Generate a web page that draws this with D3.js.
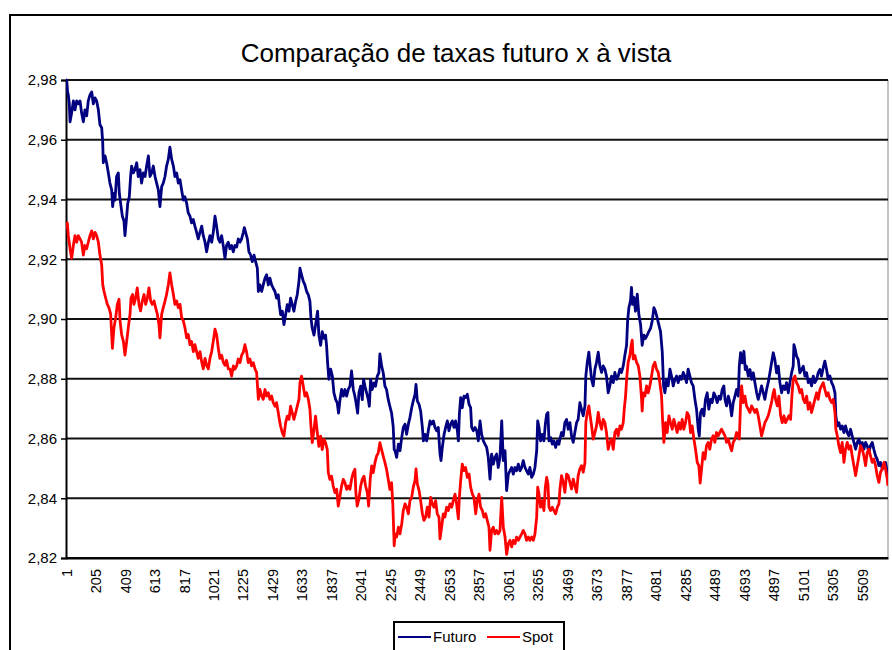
<!DOCTYPE html>
<html>
<head>
<meta charset="utf-8">
<script src="https://cdn.jsdelivr.net/npm/d3@7"></script>
<style>
  body { margin: 0; background: #fff; }
  svg { display: block; font-family: Arial, "Liberation Sans", sans-serif; }
</style>
</head>
<body>
<div id="chart"></div>
<script>
var futuroPts = [[1,2.979],[6,2.980],[12,2.976],[17,2.975],[24,2.972],[29,2.966],[40,2.969],[52,2.973],[63,2.970],[75,2.973],[86,2.972],[98,2.973],[109,2.969],[121,2.966],[132,2.970],[144,2.968],[155,2.973],[167,2.975],[179,2.976],[190,2.972],[202,2.974],[213,2.973],[225,2.970],[236,2.965],[248,2.964],[255,2.9592],[259,2.9523],[271,2.9546],[282,2.9523],[294,2.9489],[305,2.9455],[317,2.9432],[324,2.9376],[333,2.942],[340,2.9398],[351,2.9477],[363,2.9489],[370,2.942],[379,2.9387],[391,2.9344],[402,2.9328],[409,2.9279],[421,2.9344],[428,2.9387],[439,2.9409],[448,2.9477],[455,2.9512],[467,2.9489],[478,2.95],[490,2.9523],[501,2.9477],[513,2.95],[524,2.9455],[536,2.9489],[548,2.9477],[559,2.9512],[571,2.9546],[582,2.9477],[594,2.9489],[605,2.9512],[617,2.9477],[628,2.9455],[640,2.9432],[651,2.9376],[663,2.9443],[674,2.9455],[686,2.9477],[697,2.9512],[709,2.9535],[720,2.9575],[732,2.9535],[744,2.9512],[755,2.9477],[767,2.9489],[778,2.9455],[790,2.9466],[801,2.9432],[813,2.9398],[824,2.9409],[836,2.9387],[847,2.9355],[859,2.9344],[870,2.9322],[882,2.9333],[893,2.9311],[905,2.929],[916,2.9268],[928,2.929],[940,2.9311],[951,2.9279],[963,2.9257],[974,2.9225],[986,2.9257],[997,2.9279],[1009,2.9257],[1020,2.929],[1032,2.9344],[1043,2.9311],[1055,2.9268],[1066,2.9257],[1078,2.9279],[1089,2.9246],[1101,2.9203],[1112,2.9246],[1124,2.9257],[1135,2.9235],
  [1147,2.9246],[1159,2.9225],[1170,2.9246],[1182,2.9241],[1193,2.9268],[1205,2.9257],[1216,2.9268],[1228,2.929],[1235,2.9306],[1244,2.929],[1256,2.9268],[1267,2.9225],[1279,2.9214],[1290,2.9192],[1302,2.9214],[1313,2.9192],[1325,2.917],[1332,2.9092],[1343,2.9114],[1355,2.9092],[1366,2.9114],[1378,2.9137],[1389,2.9148],[1401,2.9114],[1412,2.9137],[1424,2.9114],[1435,2.9103],[1447,2.9092],[1458,2.907],[1470,2.9081],[1477,2.9048],[1486,2.9015],[1498,2.9026],[1509,2.8981],[1521,2.9015],[1532,2.9048],[1544,2.9026],[1555,2.907],[1567,2.9048],[1578,2.9026],[1590,2.9059],[1601,2.9081],[1613,2.9126],[1620,2.917],[1631,2.9148],[1643,2.9126],[1654,2.9114],[1666,2.9092],[1678,2.9081],[1689,2.9059],[1696,2.9003],[1705,2.8969],[1717,2.8946],[1728,2.8981],[1742,2.9026],[1751,2.8946],[1763,2.8912],[1774,2.8958],[1786,2.8935],[1797,2.8946],[1804,2.8912],[1811,2.8855],[1820,2.8798],[1832,2.8832],[1844,2.8809],[1855,2.8753],[1867,2.873],[1878,2.8719],[1887,2.8685],[1897,2.873],[1908,2.8764],[1920,2.8742],[1931,2.8764],[1943,2.8742],[1954,2.8764],[1966,2.8775],[1977,2.8826],[1989,2.8764],[2000,2.8742],[2012,2.8708],[2019,2.8685],[2028,2.8753],[2040,2.8775],[2051,2.873],[2060,2.8798],[2070,2.8775],[2081,2.8753],[2093,2.873],[2100,2.8708],[2109,2.8798],[2120,2.8764],[2132,2.8786],[2143,2.8775],[2155,2.8809],[2166,2.882],[2173,2.8883],[2185,2.8843],[2196,2.882],[2208,2.8775],[2219,2.8764],[2231,2.873],[2242,2.8708],[2254,2.8685],[2265,2.8641],[2272,2.8563],
  [2278,2.8559],[2289,2.8537],[2301,2.8581],[2312,2.8559],[2324,2.8603],[2335,2.8637],[2347,2.8648],[2358,2.8614],[2370,2.8648],[2381,2.867],[2393,2.8703],[2404,2.8726],[2416,2.8748],[2423,2.8781],[2432,2.8726],[2444,2.8714],[2455,2.8692],[2467,2.8637],[2474,2.8592],[2485,2.8614],[2497,2.8592],[2508,2.8626],[2520,2.8659],[2531,2.8648],[2543,2.8659],[2554,2.8637],[2566,2.8626],[2577,2.8637],[2589,2.8548],[2596,2.8526],[2605,2.857],[2617,2.8614],[2628,2.8637],[2640,2.8659],[2651,2.8626],[2663,2.8648],[2674,2.8659],[2686,2.8637],[2697,2.8659],[2709,2.8626],[2716,2.8592],[2723,2.8681],[2732,2.8737],[2743,2.8703],[2755,2.8742],[2766,2.8737],[2778,2.8748],[2790,2.8714],[2801,2.8703],[2808,2.8637],[2820,2.8626],[2831,2.8637],[2843,2.8626],[2854,2.8592],[2866,2.8659],[2877,2.8614],[2889,2.8592],[2900,2.8581],[2912,2.857],[2923,2.8537],[2935,2.8464],[2946,2.8548],[2958,2.8514],[2969,2.8537],[2981,2.8548],[2992,2.8503],[3004,2.8537],[3016,2.8659],[3027,2.8526],[3039,2.8559],[3050,2.8426],[3062,2.8481],[3073,2.8492],[3085,2.8503],[3096,2.8481],[3108,2.8503],[3119,2.8492],[3131,2.8514],[3142,2.8492],[3154,2.8503],[3165,2.8526],[3177,2.8503],[3188,2.8492],[3200,2.8481],[3211,2.8503],[3223,2.847],[3235,2.8481],[3246,2.8503],[3258,2.8559],[3265,2.8659],[3274,2.8637],[3285,2.8592],[3297,2.8614],[3308,2.8592],[3318,2.8648],[3327,2.8681],[3336,2.8687],[3343,2.8592],[3354,2.8603],[3366,2.8581],[3377,2.8592],[3389,2.857],[3401,2.8592],[3412,2.8581],
  [3419,2.8598],[3430,2.862],[3442,2.8609],[3453,2.8653],[3465,2.8664],[3476,2.8631],[3488,2.8653],[3499,2.8609],[3511,2.8587],[3522,2.862],[3534,2.8653],[3545,2.8664],[3557,2.872],[3568,2.8698],[3580,2.8676],[3592,2.8709],[3598,2.8809],[3608,2.8855],[3619,2.8889],[3628,2.8843],[3638,2.8798],[3649,2.8776],[3661,2.8832],[3672,2.8855],[3684,2.8889],[3695,2.8843],[3707,2.8821],[3718,2.8843],[3730,2.8832],[3741,2.8809],[3753,2.8753],[3764,2.8776],[3776,2.8809],[3788,2.8787],[3799,2.8821],[3811,2.8798],[3822,2.8809],[3834,2.8832],[3845,2.8821],[3857,2.8843],[3868,2.8878],[3880,2.8912],[3887,2.8992],[3896,2.9038],[3907,2.9061],[3914,2.9106],[3921,2.9049],[3931,2.9072],[3942,2.9026],[3954,2.9083],[3965,2.9015],[3977,2.8981],[3988,2.8912],[4000,2.8946],[4011,2.8935],[4023,2.8946],[4034,2.8958],[4046,2.8969],[4057,2.8992],[4069,2.9038],[4080,2.9026],[4092,2.9003],[4103,2.8981],[4115,2.8958],[4127,2.8889],[4136,2.8776],[4145,2.8753],[4157,2.8798],[4168,2.8776],[4180,2.8832],[4191,2.8809],[4203,2.8776],[4214,2.8798],[4226,2.8809],[4237,2.8787],[4249,2.8809],[4260,2.8798],[4272,2.8821],[4283,2.8809],[4295,2.8787],[4306,2.8832],[4318,2.8809],[4329,2.8787],[4341,2.8776],[4353,2.8731],[4364,2.8698],[4376,2.8631],[4383,2.8609],[4392,2.8687],[4403,2.8698],[4415,2.8676],[4426,2.8731],[4438,2.8753],[4449,2.8698],[4461,2.8731],[4472,2.872],[4484,2.8753],[4495,2.8742],[4507,2.872],[4519,2.8742],[4530,2.8731],[4542,2.8764],[4553,2.8776],
  [4561,2.8731],[4572,2.8709],[4584,2.8742],[4595,2.872],[4607,2.8676],[4618,2.872],[4630,2.8742],[4641,2.8764],[4653,2.8742],[4660,2.8842],[4669,2.8887],[4681,2.8853],[4692,2.8892],[4701,2.8831],[4710,2.8842],[4722,2.8809],[4734,2.8831],[4745,2.8798],[4757,2.882],[4768,2.8787],[4780,2.8753],[4791,2.8731],[4803,2.8753],[4814,2.8776],[4826,2.8753],[4837,2.8731],[4849,2.8764],[4860,2.8787],[4872,2.882],[4883,2.8853],[4895,2.8887],[4906,2.8864],[4918,2.882],[4930,2.8842],[4941,2.8787],[4953,2.8753],[4964,2.8776],[4976,2.8764],[4987,2.8787],[4999,2.8753],[5010,2.8787],[5022,2.882],[5033,2.8842],[5038,2.8914],[5047,2.8898],[5056,2.8876],[5068,2.8864],[5079,2.882],[5091,2.8831],[5103,2.8842],[5114,2.8809],[5126,2.882],[5137,2.8787],[5149,2.8798],[5160,2.8776],[5172,2.8809],[5183,2.8787],[5195,2.8798],[5206,2.882],[5218,2.8831],[5229,2.8809],[5241,2.8837],[5252,2.8859],[5264,2.8831],[5275,2.8798],[5287,2.8809],[5299,2.8787],[5310,2.8776],[5322,2.8753],[5328,2.8676],[5338,2.8642],[5349,2.8653],[5361,2.8631],[5372,2.8642],[5384,2.862],[5395,2.8642],[5407,2.862],[5418,2.8609],[5430,2.8631],[5441,2.8609],[5453,2.8587],[5465,2.8564],[5476,2.8587],[5488,2.8598],[5499,2.8576],[5511,2.8587],[5522,2.8564],[5534,2.8587],[5545,2.8576],[5557,2.8553],[5568,2.8576],[5580,2.8587],[5591,2.8564],[5603,2.8542],[5614,2.8531],[5626,2.8509],[5637,2.852],[5649,2.8498],[5661,2.8509],[5672,2.852],[5684,2.8487],[5688,2.8476]]

var spotPts = [[1,2.9301],[10,2.9322],[17,2.9279],[29,2.9236],[40,2.9203],[52,2.9246],[63,2.9279],[75,2.9257],[86,2.9279],[98,2.9268],[109,2.9257],[121,2.9214],[132,2.9246],[144,2.9235],[155,2.9257],[167,2.9279],[179,2.9295],[190,2.9268],[202,2.929],[213,2.9279],[225,2.9257],[236,2.9214],[248,2.9181],[255,2.9115],[264,2.9093],[275,2.9071],[287,2.9049],[298,2.9038],[310,2.9016],[322,2.8902],[333,2.8971],[345,2.9005],[356,2.9049],[368,2.9066],[375,2.8994],[386,2.8948],[398,2.8925],[409,2.8879],[421,2.8925],[432,2.8971],[444,2.9016],[451,2.9071],[462,2.9082],[471,2.9049],[483,2.9071],[494,2.9104],[506,2.9049],[517,2.9027],[529,2.906],[541,2.9082],[552,2.9049],[564,2.9071],[575,2.9104],[587,2.906],[598,2.9049],[610,2.906],[621,2.9038],[633,2.9016],[644,2.8983],[651,2.8937],[663,2.9016],[674,2.9038],[686,2.906],[697,2.9082],[709,2.9115],[720,2.9154],[732,2.9115],[744,2.9082],[755,2.9049],[767,2.906],[778,2.9038],[790,2.9049],[801,2.9005],[813,2.8994],[824,2.8971],[836,2.8937],[847,2.8948],[859,2.8914],[870,2.8925],[882,2.8891],[893,2.8914],[905,2.8891],[916,2.8868],[928,2.8891],[940,2.8856],[951,2.8833],[963,2.8868],[974,2.8845],[986,2.8833],[997,2.8868],[1009,2.8891],[1020,2.8925],[1032,2.8966],[1043,2.8948],[1055,2.8902],[1066,2.8868],[1078,2.8879],[1089,2.8856],[1101,2.8845],[1112,2.8862],[1124,2.8833],
  [1136,2.8832],[1147,2.8809],[1159,2.8843],[1170,2.8832],[1182,2.8843],[1193,2.8866],[1205,2.8854],[1216,2.8878],[1228,2.8889],[1239,2.8914],[1251,2.8889],[1262,2.8854],[1274,2.8866],[1285,2.8843],[1297,2.8854],[1309,2.8832],[1320,2.8821],[1332,2.8731],[1343,2.8764],[1355,2.8742],[1366,2.8731],[1378,2.8764],[1389,2.8742],[1401,2.8753],[1412,2.8731],[1424,2.8742],[1435,2.872],[1447,2.8708],[1458,2.872],[1470,2.8686],[1477,2.8664],[1486,2.8641],[1498,2.8619],[1509,2.8608],[1521,2.8653],[1532,2.8675],[1544,2.8664],[1555,2.8708],[1567,2.8686],[1578,2.8664],[1590,2.8686],[1601,2.8708],[1613,2.8731],[1620,2.8787],[1631,2.8809],[1643,2.8775],[1654,2.8742],[1666,2.8753],[1678,2.8731],[1689,2.8697],[1696,2.8641],[1705,2.8586],[1717,2.863],[1728,2.8675],[1740,2.8619],[1751,2.8574],[1763,2.8608],[1774,2.8563],[1786,2.8597],[1797,2.8586],[1809,2.8563],[1816,2.8486],[1827,2.8463],[1839,2.8474],[1850,2.8441],[1862,2.8419],[1874,2.843],[1885,2.8374],[1897,2.8408],[1908,2.8441],[1920,2.8463],[1931,2.8452],[1943,2.843],[1954,2.8441],[1966,2.843],[1977,2.8463],[1989,2.8486],[2000,2.8497],[2007,2.8419],[2016,2.8374],[2028,2.8397],[2040,2.8441],[2051,2.8463],[2063,2.8474],[2074,2.8441],[2086,2.8419],[2095,2.8374],[2106,2.8463],[2116,2.8508],[2127,2.8486],[2139,2.8519],[2150,2.8541],[2162,2.8552],[2173,2.8586],[2185,2.8563],[2196,2.8541],[2208,2.8519],[2219,2.8497],[2231,2.8463],[2242,2.843],[2254,2.8452],[2263,2.8374],[2272,2.8241],
  [2278,2.8281],[2289,2.827],[2301,2.8303],[2312,2.8281],[2324,2.8314],[2335,2.8359],[2347,2.8381],[2358,2.837],[2370,2.8348],[2381,2.8392],[2393,2.8403],[2404,2.8437],[2416,2.8459],[2423,2.8498],[2432,2.8448],[2444,2.8426],[2455,2.8392],[2467,2.8348],[2478,2.8326],[2490,2.8337],[2501,2.837],[2513,2.8337],[2524,2.8403],[2536,2.8381],[2547,2.837],[2559,2.8392],[2570,2.8348],[2582,2.8337],[2589,2.8264],[2600,2.8303],[2612,2.8348],[2623,2.8337],[2635,2.837],[2647,2.8359],[2658,2.8381],[2670,2.837],[2681,2.8392],[2693,2.8414],[2704,2.8381],[2716,2.8331],[2723,2.8403],[2732,2.8459],[2743,2.8514],[2755,2.8492],[2766,2.8503],[2778,2.847],[2790,2.8481],[2801,2.8437],[2813,2.8414],[2824,2.8403],[2836,2.8348],[2847,2.8392],[2859,2.8414],[2870,2.837],[2882,2.8359],[2893,2.8337],[2905,2.8348],[2916,2.8326],[2928,2.8303],[2935,2.8226],[2946,2.8292],[2958,2.8303],[2969,2.8281],[2981,2.8292],[2992,2.8281],[3004,2.8292],[3016,2.8403],[3027,2.8303],[3039,2.827],[3050,2.8212],[3062,2.8248],[3073,2.8259],[3085,2.8237],[3096,2.8259],[3108,2.8248],[3119,2.827],[3131,2.8259],[3142,2.827],[3154,2.8281],[3165,2.8292],[3177,2.8281],[3188,2.8259],[3200,2.827],[3211,2.8259],[3223,2.827],[3235,2.8259],[3246,2.8281],[3258,2.8337],[3265,2.8437],[3274,2.8414],[3285,2.837],[3297,2.8392],[3308,2.8359],[3318,2.8437],[3327,2.847],[3336,2.8448],[3343,2.837],[3354,2.8359],[3366,2.837],[3377,2.8359],[3389,2.8348],[3401,2.837],[3412,2.8381],
  [3419,2.8431],[3430,2.8476],[3442,2.8453],[3453,2.842],[3465,2.8481],[3476,2.8476],[3488,2.8453],[3499,2.8431],[3511,2.8464],[3522,2.8442],[3534,2.842],[3545,2.8476],[3557,2.8498],[3568,2.8509],[3580,2.8487],[3592,2.852],[3598,2.8653],[3608,2.8687],[3619,2.8709],[3628,2.8676],[3638,2.8642],[3649,2.8598],[3661,2.862],[3672,2.8642],[3684,2.8687],[3695,2.8653],[3707,2.8631],[3718,2.8664],[3730,2.8653],[3741,2.862],[3753,2.8564],[3764,2.8587],[3776,2.8598],[3788,2.8564],[3799,2.862],[3811,2.8631],[3822,2.8609],[3834,2.8642],[3845,2.8631],[3857,2.8653],[3864,2.8698],[3873,2.8742],[3882,2.8809],[3891,2.8855],[3903,2.8878],[3912,2.8912],[3919,2.8929],[3926,2.8866],[3937,2.8878],[3949,2.8855],[3961,2.8843],[3972,2.8809],[3984,2.8731],[3988,2.8692],[3995,2.8753],[4007,2.8742],[4018,2.8776],[4030,2.8753],[4041,2.8776],[4053,2.8809],[4064,2.8843],[4076,2.8855],[4087,2.8832],[4099,2.8821],[4110,2.8787],[4122,2.8742],[4129,2.8664],[4138,2.8587],[4150,2.8653],[4161,2.862],[4173,2.8676],[4184,2.8653],[4196,2.8631],[4207,2.8664],[4219,2.8642],[4230,2.862],[4242,2.8653],[4253,2.8631],[4265,2.8664],[4276,2.8631],[4288,2.8653],[4299,2.8687],[4311,2.8676],[4323,2.862],[4334,2.8642],[4346,2.8598],[4357,2.8564],[4369,2.852],[4380,2.8509],[4389,2.8451],[4399,2.8498],[4410,2.8553],[4422,2.8531],[4433,2.8576],[4445,2.8587],[4456,2.8564],[4468,2.8598],[4479,2.8609],[4491,2.8587],[4502,2.862],[4514,2.8609],[4525,2.862],[4537,2.8631],[4549,2.862],
  [4561,2.8609],[4572,2.8587],[4584,2.8598],[4595,2.8576],[4607,2.8559],[4618,2.8587],[4630,2.8598],[4641,2.862],[4653,2.8609],[4660,2.8598],[4669,2.872],[4676,2.8776],[4687,2.872],[4699,2.8742],[4710,2.8709],[4722,2.8698],[4734,2.8687],[4745,2.8709],[4757,2.8698],[4768,2.8687],[4780,2.8698],[4791,2.8676],[4803,2.8642],[4814,2.8609],[4826,2.8631],[4837,2.8653],[4849,2.8664],[4860,2.8676],[4872,2.8698],[4883,2.872],[4895,2.8753],[4902,2.8764],[4911,2.8731],[4923,2.8709],[4934,2.8742],[4946,2.8676],[4957,2.8653],[4969,2.8676],[4980,2.8653],[4992,2.8664],[5003,2.8676],[5015,2.8664],[5024,2.8742],[5033,2.8798],[5045,2.8809],[5056,2.8787],[5068,2.8776],[5079,2.8753],[5091,2.8764],[5103,2.8731],[5114,2.872],[5126,2.8742],[5137,2.8698],[5149,2.872],[5160,2.8687],[5172,2.8709],[5183,2.8731],[5195,2.8753],[5206,2.8731],[5218,2.8764],[5229,2.8776],[5241,2.8787],[5252,2.8764],[5264,2.8742],[5275,2.8753],[5287,2.8731],[5299,2.872],[5310,2.8731],[5322,2.8687],[5328,2.8631],[5338,2.8609],[5349,2.8576],[5361,2.8553],[5372,2.8587],[5384,2.852],[5395,2.8564],[5407,2.8587],[5418,2.8564],[5430,2.8576],[5441,2.8542],[5453,2.8509],[5465,2.8476],[5476,2.8509],[5488,2.8542],[5499,2.8576],[5511,2.8564],[5522,2.8542],[5534,2.8509],[5545,2.8553],[5557,2.8564],[5568,2.8542],[5580,2.852],[5591,2.8531],[5603,2.8509],[5614,2.8476],[5626,2.8453],[5637,2.8487],[5649,2.8498],[5661,2.852],[5672,2.8498],[5684,2.8464],[5688,2.8442]]

var xTickLabels = [1,205,409,613,817,1021,1225,1429,1633,1837,2041,2245,2449,2653,2857,3061,3265,3469,3673,3877,4081,4285,4489,4693,4897,5101,5305,5509]
var yTicks = [2.82,2.84,2.86,2.88,2.90,2.92,2.94,2.96,2.98]
var seriesNames = ['Futuro','Spot']
var seriesColors = ['#000080','#ff0000']
var nObs = 5689

var width = 892, height = 650
var plot = {left: 66, right: 888, top: 80, bottom: 558}
var fontStack = 'Arial, "Liberation Sans", sans-serif'

var svg = d3.select('#chart').append('svg')
  .attr('width', width)
  .attr('height', height)

// chart area frame (runs off the right and bottom of the picture)
svg.append('rect')
  .attr('x', 10).attr('y', 15)
  .attr('width', 900).attr('height', 700)
  .attr('fill', '#fff').attr('stroke', '#000').attr('stroke-width', 2)

svg.append('text')
  .attr('x', 456).attr('y', 62)
  .attr('text-anchor', 'middle')
  .attr('font-size', 26)
  .text('Comparação de taxas futuro x à vista')

var x = d3.scaleLinear().domain([1, nObs]).range([plot.left, plot.right])
var y = d3.scaleLinear().domain([2.82, 2.98]).range([plot.bottom, plot.top])

// plot area right border
svg.append('line')
  .attr('x1', plot.right).attr('x2', plot.right)
  .attr('y1', plot.top).attr('y2', plot.bottom)
  .attr('stroke', '#888').attr('stroke-width', 1)

// gridlines
svg.append('g').selectAll('line').data(yTicks).enter().append('line')
  .attr('x1', plot.left).attr('x2', plot.right)
  .attr('y1', d => y(d)).attr('y2', d => y(d))
  .attr('stroke', '#111').attr('stroke-width', 2)

var fmt = d => d3.format('.2f')(d).replace('.', ',')

var yAxis = svg.append('g')
  .attr('transform', 'translate(' + plot.left + ',0)')
  .call(d3.axisLeft(y).tickValues(yTicks).tickFormat(fmt).tickSize(5).tickPadding(4))
yAxis.select('.domain').attr('stroke', '#000').attr('stroke-width', 2)
yAxis.selectAll('.tick line').attr('stroke', '#000').attr('stroke-width', 1.5)
yAxis.selectAll('text').attr('font-size', 15).attr('fill', '#000')
  .attr('font-family', fontStack)

var xAxis = svg.append('g')
  .attr('transform', 'translate(0,' + plot.bottom + ')')
  .call(d3.axisBottom(x).tickValues(xTickLabels).tickFormat(d => String(d)).tickSize(0).tickPadding(0))
xAxis.select('.domain').attr('stroke', '#000').attr('stroke-width', 2)
xAxis.selectAll('text')
  .attr('font-size', 14.5).attr('fill', '#000')
  .attr('font-family', fontStack)
  .attr('text-anchor', 'end')
  .attr('dy', '0.35em')
  .attr('transform', 'translate(0,11) rotate(-90)')
  .attr('x', 0).attr('y', 0)

var line = d3.line().x(d => x(d[0])).y(d => y(d[1]))

svg.append('defs').append('clipPath').attr('id', 'plotclip')
  .append('rect').attr('x', plot.left).attr('y', plot.top - 3)
  .attr('width', plot.right - plot.left).attr('height', plot.bottom - plot.top + 3)

var lines = svg.append('g').attr('clip-path', 'url(#plotclip)')
lines.append('path').datum(futuroPts)
  .attr('d', line).attr('fill', 'none')
  .attr('stroke', seriesColors[0]).attr('stroke-width', 2.8).attr('stroke-linejoin', 'round')
lines.append('path').datum(spotPts)
  .attr('d', line).attr('fill', 'none')
  .attr('stroke', seriesColors[1]).attr('stroke-width', 2.8).attr('stroke-linejoin', 'round')

// legend
var lg = svg.append('g')
lg.append('rect')
  .attr('x', 394).attr('y', 622).attr('width', 170).attr('height', 40)
  .attr('fill', '#fff').attr('stroke', '#000').attr('stroke-width', 2)
var legendX = [398, 487]
seriesNames.forEach(function(name, i){
  lg.append('line')
    .attr('x1', legendX[i]).attr('x2', legendX[i] + 33)
    .attr('y1', 637).attr('y2', 637)
    .attr('stroke', seriesColors[i]).attr('stroke-width', 2)
  lg.append('text')
    .attr('x', legendX[i] + 35).attr('y', 642)
    .attr('font-size', 15)
    .text(name)
})
</script>
</body>
</html>
